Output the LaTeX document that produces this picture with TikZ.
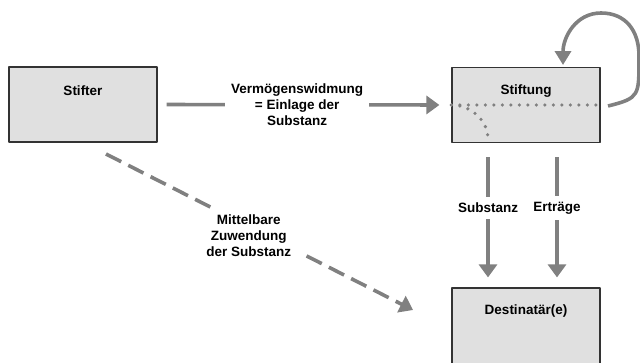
\documentclass[tikz,border=0pt]{standalone}
\usepackage{fontspec}
\setmainfont{Liberation Sans}
\usetikzlibrary{arrows.meta,positioning}
\definecolor{pfeil}{HTML}{808080}
\definecolor{kasten}{HTML}{E0E0E0}
\begin{document}
\begin{tikzpicture}[x=1pt,y=-1pt,line join=round,
	box/.style={draw=black!80,fill=kasten,line width=1.2pt,minimum width=148pt,minimum height=75pt,inner sep=0pt},
	title/.style={font=\fontsize{13.5}{16}\selectfont\bfseries,inner sep=0pt,anchor=center},
	lbl/.style={fill=white,text=black,font=\fontsize{13.5}{16}\selectfont\bfseries,align=center,inner sep=6pt},
	arr/.style={draw=pfeil,line width=3.6pt,-{Triangle[length=13pt,width=18pt]},pfeil},
	punkte/.style={pfeil,line width=3.6pt,line cap=round,dash pattern=on 0pt off 8.5pt}]
	\useasboundingbox (0,0) rectangle (640,362);
	% Kaesten
	\node[box] (stifter) at (83,104.5) {};
	\node[box] (stiftung) at (526,105) {};
	\node[box,minimum height=90pt] (dest) at (526,333) {};
	\node[title,below=24pt of stifter.north,anchor=center] (stiftertxt) {Stifter};
	\node[title,below=24pt of stiftung.north,anchor=center] (stiftungtxt) {Stiftung};
	\node[title,below=24pt of dest.north,anchor=center] (desttxt) {Destinatär(e)};
	% Trennlinien in der Stiftung
	\draw[punkte] (stiftung.west) -- (stiftung.east);
	\draw[punkte] (stiftung.west) .. controls +(19,0) and +(0,-19) .. ([xshift=-38pt,yshift=-34pt]stiftung.west -| stiftung.south);
	% Widmung
	\draw[arr,shorten <=9pt,shorten >=12pt] (stifter.east) -- node[lbl,pos=0.475] (widmung)
		{Vermögenswidmung\\= Einlage der\\Substanz} (stiftung.west);
	% Ausschuettungen
	\draw[arr,shorten <=14pt,shorten >=10pt] ([xshift=-38pt]stiftung.south) -- node[lbl,pos=0.45] (substanz)
		{Substanz} ([xshift=-38pt]dest.north);
	\draw[arr,shorten <=14pt,shorten >=10pt] ([xshift=31pt]stiftung.south) -- node[lbl,pos=0.45] (ertraege)
		{Erträge} ([xshift=31pt]dest.north);
	% mittelbare Zuwendung
	\coordinate (d1) at (106,154);
	\coordinate (d2) at (413,310);
	\draw[arr,dash pattern=on 17pt off 8pt] (d1) -- node[lbl,pos=0.465,yshift=-9pt,inner xsep=14pt,inner ysep=6pt] (mittelbar)
		{Mittelbare\\Zuwendung\\der Substanz} (d2);
	% Thesaurierung
	\coordinate (l1) at (608,106);
	\coordinate (l2) at (563,65);
	\draw[draw=pfeil,line width=3.6pt,-{Triangle[length=14pt,width=16pt]},pfeil]
		(l1) .. controls +(32,-8) and +(0,40) .. (639,56)
		.. controls +(0,-25) and +(25,0) .. (601,13)
		.. controls +(-25,0) and +(0,-28) .. (l2);
\end{tikzpicture}
\end{document}
